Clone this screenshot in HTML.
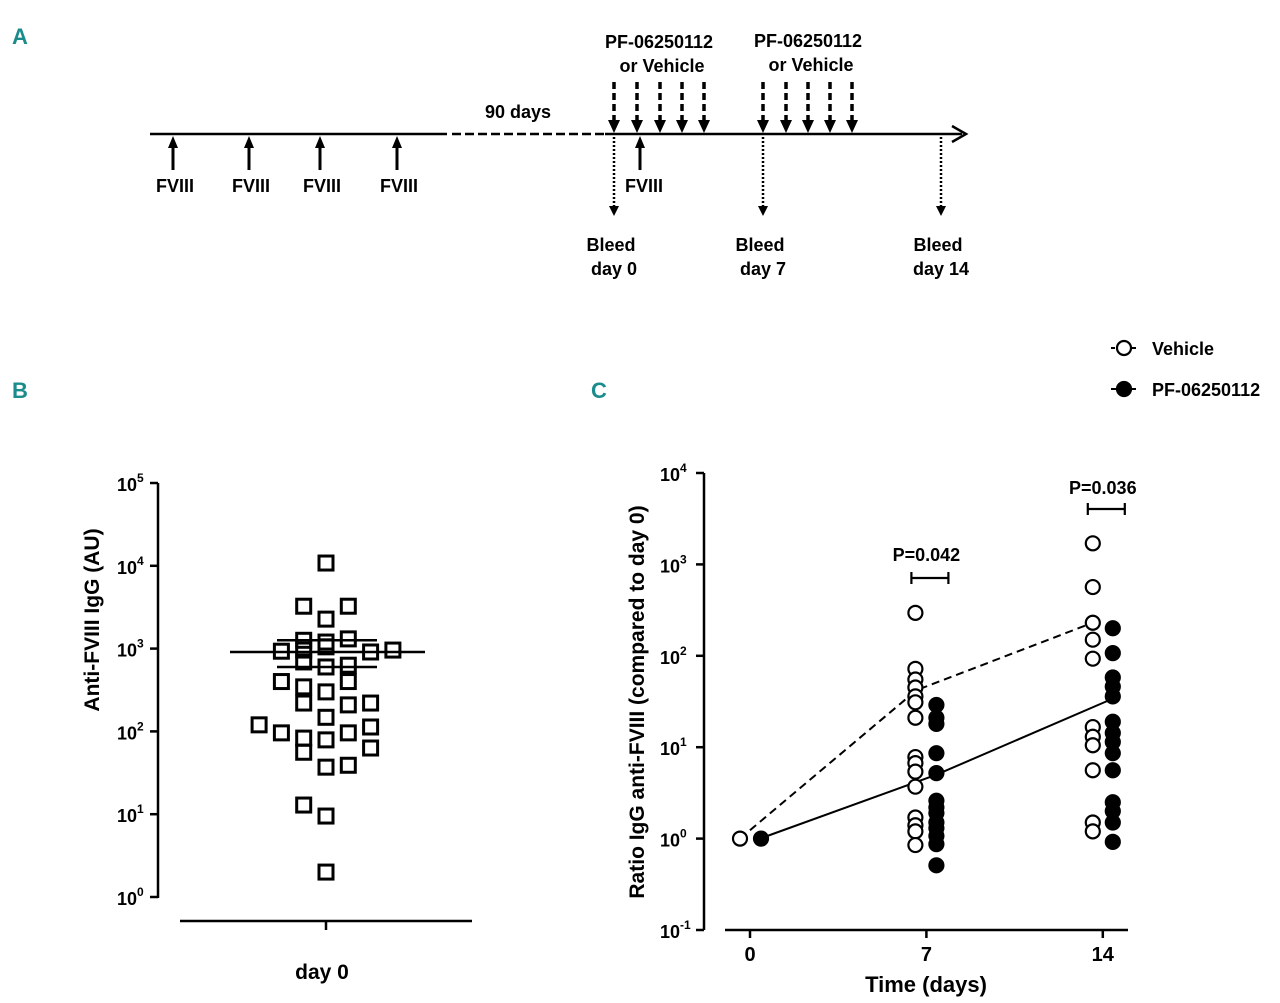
<!DOCTYPE html>
<html><head><meta charset="utf-8"><style>
html,body{margin:0;padding:0;background:#fff}
svg{display:block;font-family:"Liberation Sans",Arial,sans-serif;font-weight:bold}
</style></head><body>
<svg id="fig" width="1280" height="1003" viewBox="0 0 1280 1003" xmlns="http://www.w3.org/2000/svg">
<defs>
<marker id="ah" markerWidth="10" markerHeight="10" refX="5" refY="5" orient="auto" markerUnits="userSpaceOnUse"><path d="M0,0 L10,5 L0,10 z" fill="#000"/></marker>
</defs>
<g fill="#1a8c8c" font-size="22">
<text x="12" y="44">A</text>
<text x="12" y="398">B</text>
<text x="591" y="398">C</text>
</g>
<g id="timeline"></g>
<g id="panelB"></g>
<g id="panelC"></g>
</svg>
<script>
// ---------- Panel B data ----------
const bValues = [10800,3250,3250,2270,1260,1200,1310,930,960,1050,910,960,690,600,630,400,345,300,400,220,148,209,220,120,96,83,56,79,96,113,63,37,39,12.9,9.5,2.0];
const bColumns = [0,-1,1,0,-1,0,1,-2,-1,0,2,3,-1,0,1,-2,-1,0,1,-1,0,1,2,-3,-2,-1,-1,0,1,2,2,0,1,-1,0,0];
const bMean = [910];
const bErr = [1260, 600];
const bTicks = [0,1,2,3,4,5];
// ---------- Panel C data ----------
const cDays = [0,7,14];
const vehDay7 = [295,72,55,45,36,31,21,7.8,6.7,5.4,3.7,1.7,1.4,1.2,0.85];
const pfDay7 = [29,21,18,8.6,5.2,2.6,2.2,1.9,1.5,1.3,1.07,0.87,0.51];
const vehDay14 = [1700,565,230,150,93,16.6,13,10.5,5.6,1.5,1.2];
const pfDay14 = [200,107,58,46,36,19,14.3,11.4,8.6,5.6,2.5,2.0,1.5,0.92];
const vehMean = [1,42,230];
const pfMean = [1,5,34];
const cTicks = [-1,0,1,2,3,4];
const pLabels = ["P=0.042","P=0.036"];

const NS="http://www.w3.org/2000/svg";
function mk(parent,tag,attrs,text){const e=document.createElementNS(NS,tag);for(const k in attrs)e.setAttribute(k,attrs[k]);if(text!==undefined)e.textContent=text;parent.appendChild(e);return e;}

// ---------- Panel A ----------
const A=document.getElementById('timeline');
let e;
e=mk(A,'line',{x1:150,y1:134,x2:447,y2:134,stroke:'#000','stroke-width':2.5});


e=mk(A,'line',{x1:452,y1:134,x2:605,y2:134,stroke:'#000','stroke-width':2.5,'stroke-dasharray':'9,4'});


e=mk(A,'line',{x1:605,y1:134,x2:962,y2:134,stroke:'#000','stroke-width':2.5});


e=mk(A,'path',{d:'M952,126 L966,134 L952,142',fill:'none',stroke:'#000','stroke-width':2.5});


e=mk(A,'text',{x:518,y:118,'font-size':18,'text-anchor':'middle'},'90 days');


const fviiiX=[173,249,320,397,640];
fviiiX.forEach((x,i)=>{
  const g=mk(A,'g',{});
  
  
  mk(g,'line',{x1:x,y1:170,x2:x,y2:146,stroke:'#000','stroke-width':3});
  mk(g,'path',{d:`M${x-5},148 L${x},136 L${x+5},148 z`,fill:'#000'});
  mk(g,'text',{x:i<4?x+2:x+4,y:192,'font-size':18,'text-anchor':'middle'},'FVIII');
});
const doseX=[614,637,660,682,704,763,786,808,830,852];
doseX.forEach(x=>{
  const g=mk(A,'g',{});
  
  
  mk(g,'line',{x1:x,y1:82,x2:x,y2:122,stroke:'#000','stroke-width':3.5,'stroke-dasharray':'7,4'});
  mk(g,'path',{d:`M${x-6},120 L${x},133 L${x+6},120 z`,fill:'#000'});
});
[[659,48],[808,47]].forEach(([x,y])=>{
  e=mk(A,'text',{x:x,y:y,'font-size':18,'text-anchor':'middle'},'PF-06250112');
  
  
  e=mk(A,'text',{x:x+3,y:y+24,'font-size':18,'text-anchor':'middle'},'or Vehicle');
  
  
});
[[614,'day 0'],[763,'day 7'],[941,'day 14']].forEach(([x,t])=>{
  const g=mk(A,'g',{});
  
  
  mk(g,'line',{x1:x,y1:137,x2:x,y2:206,stroke:'#000','stroke-width':2.5,'stroke-dasharray':'2,2'});
  mk(g,'path',{d:`M${x-5},206 L${x},216 L${x+5},206 z`,fill:'#000'});
  mk(g,'text',{x:x-3,y:251,'font-size':18,'text-anchor':'middle'},'Bleed');
  mk(g,'text',{x:x,y:275,'font-size':18,'text-anchor':'middle'},t);
});

// ---------- Panel B ----------
const B=document.getElementById('panelB');
const bY0=897,bDec=82.8;
function byScale(v){return bY0-Math.log10(v)*bDec;}
function bxScale(c){return 326+c*22.3;}
e=mk(B,'line',{x1:158,y1:byScale(1e5),x2:158,y2:bY0+1,stroke:'#000','stroke-width':2.5});


bTicks.forEach(t=>{
  const y=byScale(Math.pow(10,t));
  const g=mk(B,'g',{});
  
  
  mk(g,'line',{x1:150,y1:y,x2:158,y2:y,stroke:'#000','stroke-width':2.5});
  const tx=mk(g,'text',{x:117,y:y+8,'font-size':18},'10');
  const ts=mk(tx,'tspan',{dy:-9,'font-size':12},String(t));
});
e=mk(B,'line',{x1:180,y1:921,x2:472,y2:921,stroke:'#000','stroke-width':2.5});


e=mk(B,'line',{x1:326,y1:921,x2:326,y2:930,stroke:'#000','stroke-width':2.5});


e=mk(B,'text',{x:322,y:979,'font-size':21,'text-anchor':'middle'},'day 0');


e=mk(B,'text',{x:0,y:0,'font-size':21,'text-anchor':'middle',transform:'translate(99,620) rotate(-90)'},'Anti-FVIII IgG  (AU)');


bValues.forEach((v,i)=>{
  const x=bxScale(bColumns[i]),y=byScale(v);
  const r=mk(B,'rect',{x:x-7,y:y-7,width:14,height:14,fill:'none',stroke:'#000','stroke-width':3});
  
  
});
e=mk(B,'line',{x1:230,y1:byScale(bMean[0]),x2:425,y2:byScale(bMean[0]),stroke:'#000','stroke-width':2.5});


bErr.forEach(v=>{
  const l=mk(B,'line',{x1:277,y1:byScale(v),x2:377,y2:byScale(v),stroke:'#000','stroke-width':2.5});
  
  
});

// ---------- Panel C ----------
const C=document.getElementById('panelC');
const cY0=838.6,cDec=91.4;
function cyScale(v){return cY0-Math.log10(v)*cDec;}
function cxScale(d){return 750+d*25.2;}
e=mk(C,'line',{x1:704,y1:cyScale(1e4),x2:704,y2:930,stroke:'#000','stroke-width':2.5});


cTicks.forEach(t=>{
  const y=cyScale(Math.pow(10,t));
  const g=mk(C,'g',{});
  
  
  mk(g,'line',{x1:696,y1:y,x2:704,y2:y,stroke:'#000','stroke-width':2.5});
  const tx=mk(g,'text',{x:660,y:y+8,'font-size':18},'10');
  mk(tx,'tspan',{dy:-9,'font-size':12},String(t));
});
e=mk(C,'line',{x1:725,y1:930,x2:1128,y2:930,stroke:'#000','stroke-width':2.5});


cDays.forEach(d=>{
  const x=cxScale(d);
  const g=mk(C,'g',{});
  
  
  mk(g,'line',{x1:x,y1:930,x2:x,y2:938,stroke:'#000','stroke-width':2.5});
  mk(g,'text',{x:x,y:961,'font-size':20,'text-anchor':'middle'},String(d));
});
e=mk(C,'text',{x:926,y:992,'font-size':22,'text-anchor':'middle'},'Time (days)');


e=mk(C,'text',{x:0,y:0,'font-size':21,'text-anchor':'middle',transform:'translate(644,702) rotate(-90)'},'Ratio IgG anti-FVIII (compared to day 0)');


// mean lines
const vPts=cDays.map((d,i)=>`${cxScale(d)-10},${cyScale(vehMean[i])}`).join(' ');
e=mk(C,'polyline',{points:vPts,fill:'none',stroke:'#000','stroke-width':2,'stroke-dasharray':'8,5'});


const pPts=cDays.map((d,i)=>`${cxScale(d)+10},${cyScale(pfMean[i])}`).join(' ');
e=mk(C,'polyline',{points:pPts,fill:'none',stroke:'#000','stroke-width':2});


function dot(x,v,filled,name){
  const c=mk(C,'circle',{cx:x,cy:cyScale(v),r:7,fill:filled?'#000':'#fff',stroke:'#000','stroke-width':2.2});
  
  
}
dot(cxScale(0)-10,vehMean[0],false,'vehicle-point');
dot(cxScale(0)+11,pfMean[0],true,'pf-point');
vehDay7.forEach(v=>dot(cxScale(7)-11,v,false,'vehicle-point'));
pfDay7.forEach(v=>dot(cxScale(7)+10,v,true,'pf-point'));
vehDay14.forEach(v=>dot(cxScale(14)-10,v,false,'vehicle-point'));
pfDay14.forEach(v=>dot(cxScale(14)+10,v,true,'pf-point'));
// significance brackets
[[7,578,561],[14,509,494]].forEach(([d,y,ty],i)=>{
  const x=cxScale(d);
  const g=mk(C,'g',{});
  
  
  mk(g,'path',{d:`M${x-15},${y-6} V${y+6} M${x-15},${y} H${x+22} M${x+22},${y-6} V${y+6}`,fill:'none',stroke:'#000','stroke-width':2.2});
  mk(g,'text',{x:x,y:ty,'font-size':18,'text-anchor':'middle'},pLabels[i]);
});
// legend
[[348,'Vehicle',false],[389,'PF-06250112',true]].forEach(([y,t,f])=>{
  const g=mk(C,'g',{});
  
  
  mk(g,'line',{x1:1111,y1:y,x2:1136,y2:y,stroke:'#000','stroke-width':2,'stroke-dasharray':f?'none':'4,3'});
  mk(g,'circle',{cx:1124,cy:y,r:7,fill:f?'#000':'#fff',stroke:'#000','stroke-width':2.2});
  mk(g,'text',{x:1152,y:y+7,'font-size':18},t);
});
</script>
</body></html>
